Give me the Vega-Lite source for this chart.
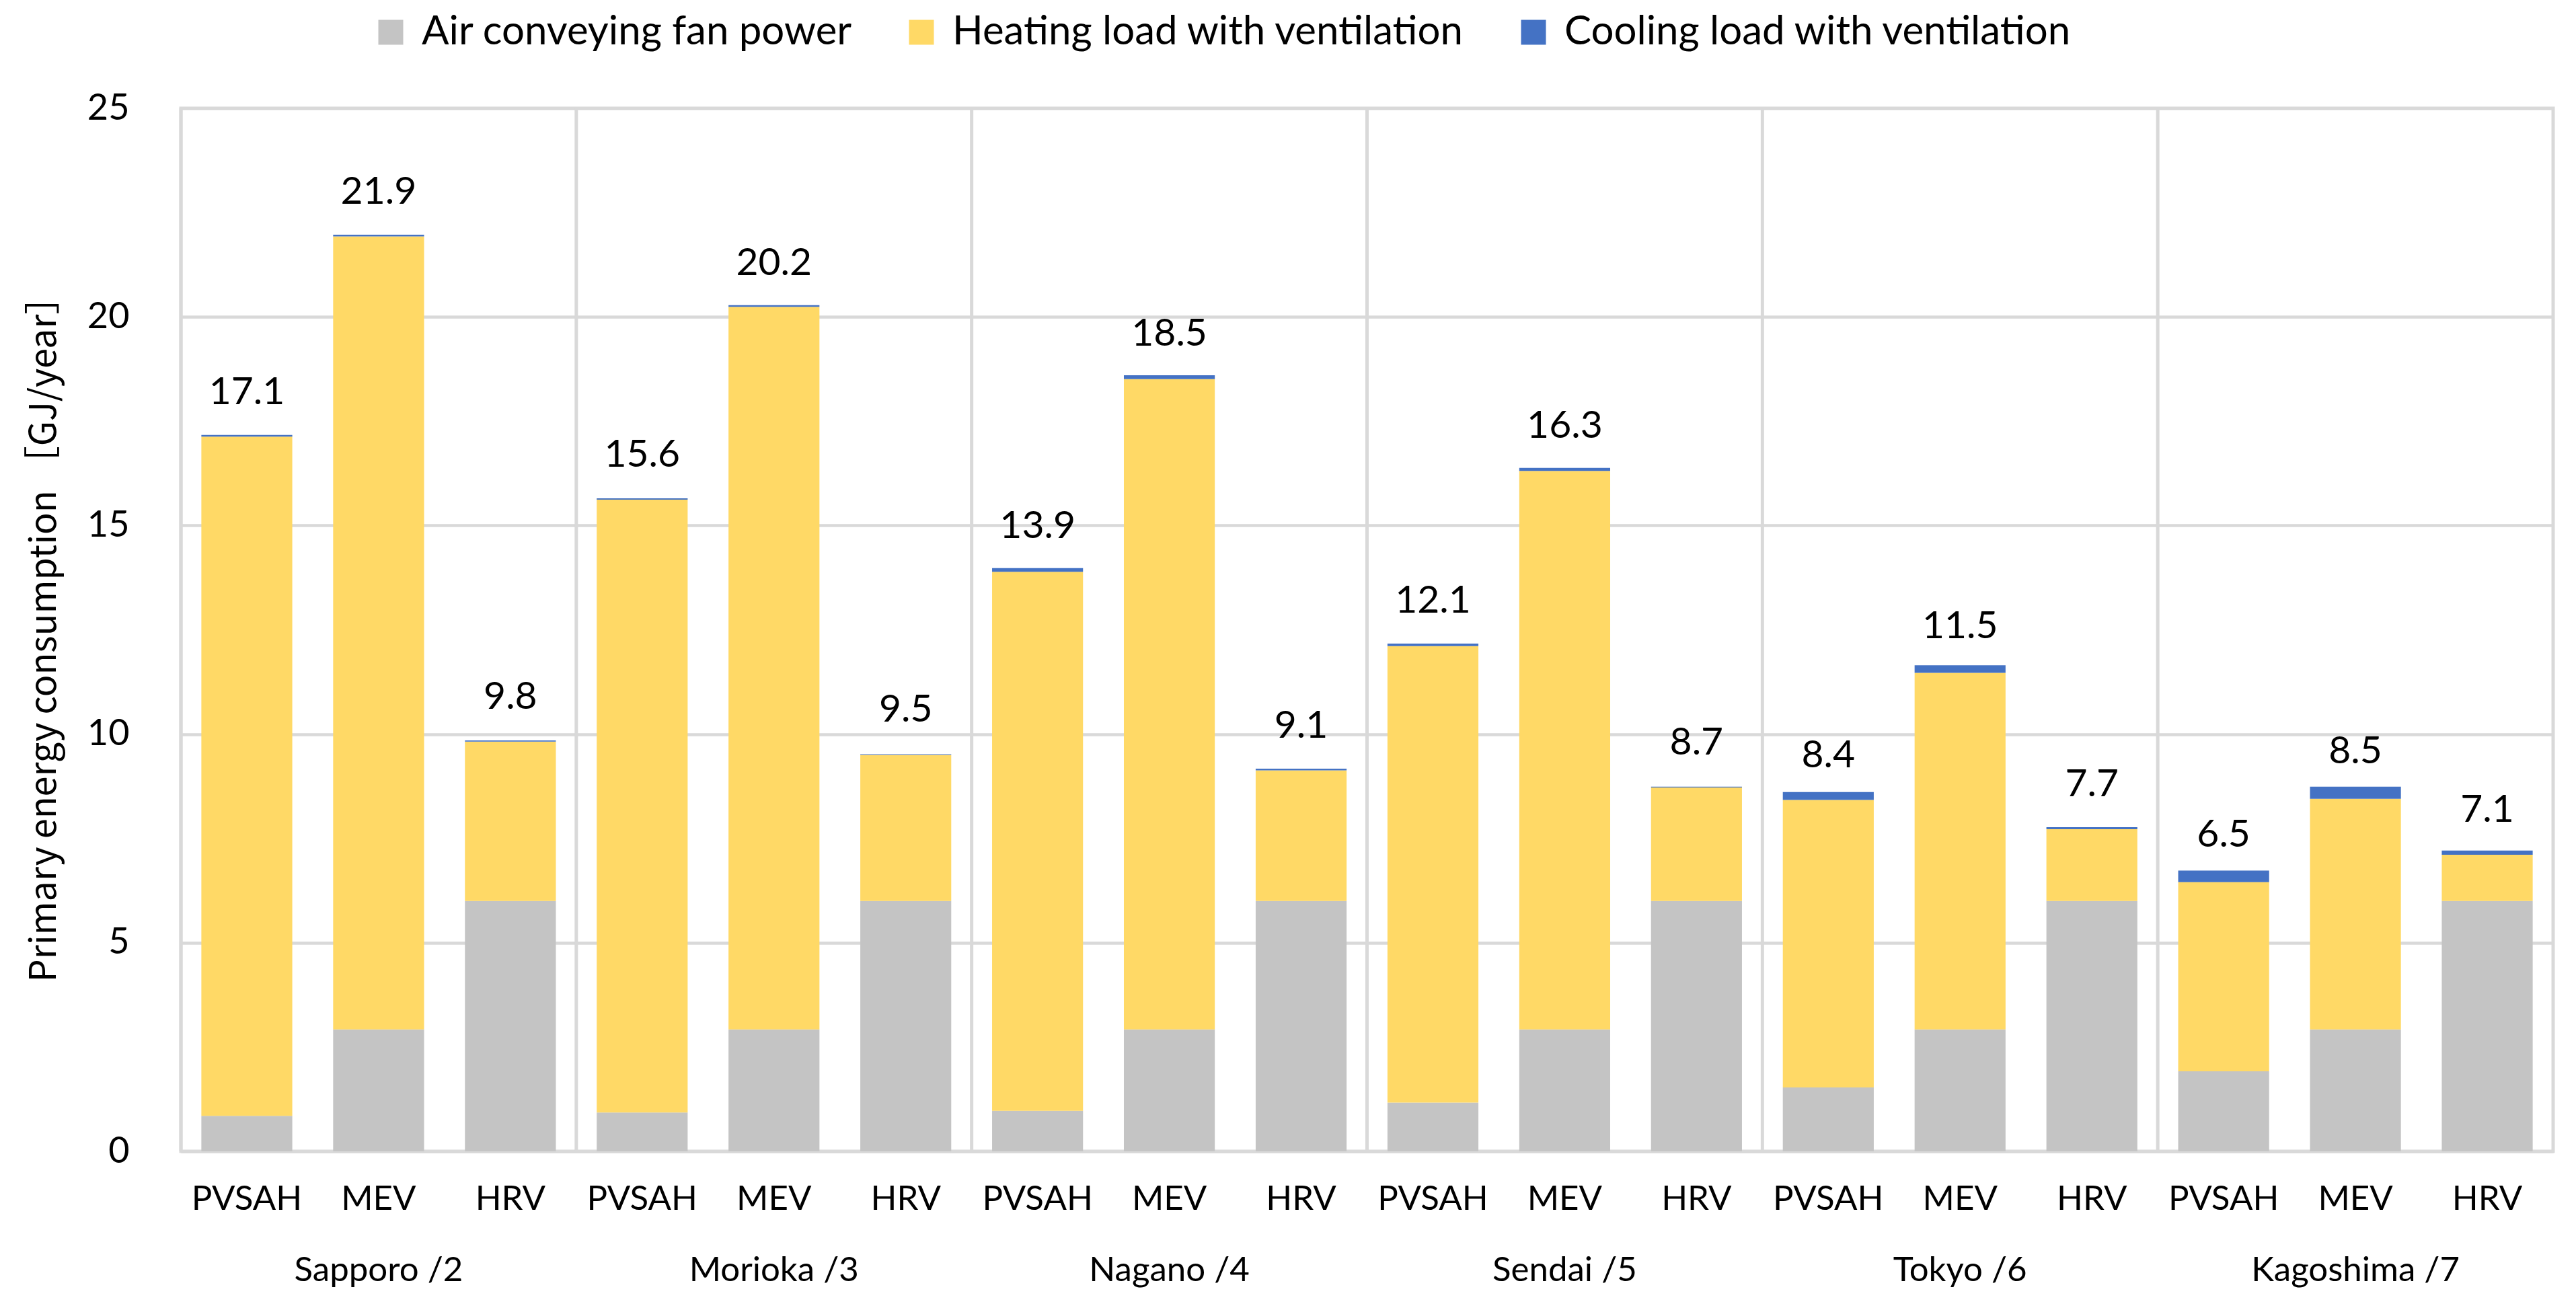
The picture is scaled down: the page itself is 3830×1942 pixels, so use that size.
{
  "$schema": "https://vega.github.io/schema/vega-lite/v6.json",
  "width": 3527,
  "height": 1551,
  "autosize": "none",
  "padding": {"left": 269, "top": 161, "right": 34, "bottom": 230},
  "background": "white",
  "config": {
    "view": {"stroke": "#D9D9D9", "strokeWidth": 5},
    "font": "Lato",
    "axis": {"labelFont": "Lato", "labelColor": "#000000", "titleColor": "#000000"}
  },
  "datasets": {
    "bars": [
      {"city": "Sapporo /2", "system": "PVSAH", "component": "Air conveying fan power", "value": 0.85},
      {"city": "Sapporo /2", "system": "PVSAH", "component": "Heating load with ventilation", "value": 16.28},
      {"city": "Sapporo /2", "system": "PVSAH", "component": "Cooling load with ventilation", "value": 0.04},
      {"city": "Sapporo /2", "system": "MEV", "component": "Air conveying fan power", "value": 2.92},
      {"city": "Sapporo /2", "system": "MEV", "component": "Heating load with ventilation", "value": 19.01},
      {"city": "Sapporo /2", "system": "MEV", "component": "Cooling load with ventilation", "value": 0.04},
      {"city": "Sapporo /2", "system": "HRV", "component": "Air conveying fan power", "value": 6.0},
      {"city": "Sapporo /2", "system": "HRV", "component": "Heating load with ventilation", "value": 3.82},
      {"city": "Sapporo /2", "system": "HRV", "component": "Cooling load with ventilation", "value": 0.03},
      {"city": "Morioka /3", "system": "PVSAH", "component": "Air conveying fan power", "value": 0.93},
      {"city": "Morioka /3", "system": "PVSAH", "component": "Heating load with ventilation", "value": 14.69},
      {"city": "Morioka /3", "system": "PVSAH", "component": "Cooling load with ventilation", "value": 0.03},
      {"city": "Morioka /3", "system": "MEV", "component": "Air conveying fan power", "value": 2.92},
      {"city": "Morioka /3", "system": "MEV", "component": "Heating load with ventilation", "value": 17.32},
      {"city": "Morioka /3", "system": "MEV", "component": "Cooling load with ventilation", "value": 0.04},
      {"city": "Morioka /3", "system": "HRV", "component": "Air conveying fan power", "value": 6.0},
      {"city": "Morioka /3", "system": "HRV", "component": "Heating load with ventilation", "value": 3.5},
      {"city": "Morioka /3", "system": "HRV", "component": "Cooling load with ventilation", "value": 0.02},
      {"city": "Nagano /4", "system": "PVSAH", "component": "Air conveying fan power", "value": 0.97},
      {"city": "Nagano /4", "system": "PVSAH", "component": "Heating load with ventilation", "value": 12.92},
      {"city": "Nagano /4", "system": "PVSAH", "component": "Cooling load with ventilation", "value": 0.09},
      {"city": "Nagano /4", "system": "MEV", "component": "Air conveying fan power", "value": 2.92},
      {"city": "Nagano /4", "system": "MEV", "component": "Heating load with ventilation", "value": 15.59},
      {"city": "Nagano /4", "system": "MEV", "component": "Cooling load with ventilation", "value": 0.09},
      {"city": "Nagano /4", "system": "HRV", "component": "Air conveying fan power", "value": 6.0},
      {"city": "Nagano /4", "system": "HRV", "component": "Heating load with ventilation", "value": 3.13},
      {"city": "Nagano /4", "system": "HRV", "component": "Cooling load with ventilation", "value": 0.04},
      {"city": "Sendai /5", "system": "PVSAH", "component": "Air conveying fan power", "value": 1.17},
      {"city": "Sendai /5", "system": "PVSAH", "component": "Heating load with ventilation", "value": 10.94},
      {"city": "Sendai /5", "system": "PVSAH", "component": "Cooling load with ventilation", "value": 0.06},
      {"city": "Sendai /5", "system": "MEV", "component": "Air conveying fan power", "value": 2.92},
      {"city": "Sendai /5", "system": "MEV", "component": "Heating load with ventilation", "value": 13.39},
      {"city": "Sendai /5", "system": "MEV", "component": "Cooling load with ventilation", "value": 0.07},
      {"city": "Sendai /5", "system": "HRV", "component": "Air conveying fan power", "value": 6.0},
      {"city": "Sendai /5", "system": "HRV", "component": "Heating load with ventilation", "value": 2.72},
      {"city": "Sendai /5", "system": "HRV", "component": "Cooling load with ventilation", "value": 0.02},
      {"city": "Tokyo /6", "system": "PVSAH", "component": "Air conveying fan power", "value": 1.53},
      {"city": "Tokyo /6", "system": "PVSAH", "component": "Heating load with ventilation", "value": 6.89},
      {"city": "Tokyo /6", "system": "PVSAH", "component": "Cooling load with ventilation", "value": 0.19},
      {"city": "Tokyo /6", "system": "MEV", "component": "Air conveying fan power", "value": 2.92},
      {"city": "Tokyo /6", "system": "MEV", "component": "Heating load with ventilation", "value": 8.55},
      {"city": "Tokyo /6", "system": "MEV", "component": "Cooling load with ventilation", "value": 0.18},
      {"city": "Tokyo /6", "system": "HRV", "component": "Air conveying fan power", "value": 6.0},
      {"city": "Tokyo /6", "system": "HRV", "component": "Heating load with ventilation", "value": 1.72},
      {"city": "Tokyo /6", "system": "HRV", "component": "Cooling load with ventilation", "value": 0.05},
      {"city": "Kagoshima /7", "system": "PVSAH", "component": "Air conveying fan power", "value": 1.92},
      {"city": "Kagoshima /7", "system": "PVSAH", "component": "Heating load with ventilation", "value": 4.53},
      {"city": "Kagoshima /7", "system": "PVSAH", "component": "Cooling load with ventilation", "value": 0.28},
      {"city": "Kagoshima /7", "system": "MEV", "component": "Air conveying fan power", "value": 2.92},
      {"city": "Kagoshima /7", "system": "MEV", "component": "Heating load with ventilation", "value": 5.53},
      {"city": "Kagoshima /7", "system": "MEV", "component": "Cooling load with ventilation", "value": 0.29},
      {"city": "Kagoshima /7", "system": "HRV", "component": "Air conveying fan power", "value": 6.0},
      {"city": "Kagoshima /7", "system": "HRV", "component": "Heating load with ventilation", "value": 1.11},
      {"city": "Kagoshima /7", "system": "HRV", "component": "Cooling load with ventilation", "value": 0.1}
    ],
    "totals": [
      {"city": "Sapporo /2", "system": "PVSAH", "label": 17.1},
      {"city": "Sapporo /2", "system": "MEV", "label": 21.9},
      {"city": "Sapporo /2", "system": "HRV", "label": 9.8},
      {"city": "Morioka /3", "system": "PVSAH", "label": 15.6},
      {"city": "Morioka /3", "system": "MEV", "label": 20.2},
      {"city": "Morioka /3", "system": "HRV", "label": 9.5},
      {"city": "Nagano /4", "system": "PVSAH", "label": 13.9},
      {"city": "Nagano /4", "system": "MEV", "label": 18.5},
      {"city": "Nagano /4", "system": "HRV", "label": 9.1},
      {"city": "Sendai /5", "system": "PVSAH", "label": 12.1},
      {"city": "Sendai /5", "system": "MEV", "label": 16.3},
      {"city": "Sendai /5", "system": "HRV", "label": 8.7},
      {"city": "Tokyo /6", "system": "PVSAH", "label": 8.4},
      {"city": "Tokyo /6", "system": "MEV", "label": 11.5},
      {"city": "Tokyo /6", "system": "HRV", "label": 7.7},
      {"city": "Kagoshima /7", "system": "PVSAH", "label": 6.5},
      {"city": "Kagoshima /7", "system": "MEV", "label": 8.5},
      {"city": "Kagoshima /7", "system": "HRV", "label": 7.1}
    ]
  },
  "layer": [
    {
      "data": {"name": "totals"},
      "transform": [{"filter": "datum.system === 'PVSAH'"}],
      "mark": {"type": "rule", "color": "#D9D9D9", "strokeWidth": 5},
      "encoding": {
        "x": {"field": "city", "type": "nominal", "bandPosition": 0, "sort": ["Sapporo /2", "Morioka /3", "Nagano /4", "Sendai /5", "Tokyo /6", "Kagoshima /7"], "title": null}
      }
    },
    {
      "data": {"name": "bars"},
      "transform": [
        {"calculate": "indexof(['Air conveying fan power','Heating load with ventilation','Cooling load with ventilation'], datum.component)", "as": "stackOrder"}
      ],
      "mark": {"type": "bar"},
      "encoding": {
        "x": {
          "field": "city", "type": "nominal",
          "sort": ["Sapporo /2", "Morioka /3", "Nagano /4", "Sendai /5", "Tokyo /6", "Kagoshima /7"],
          "scale": {"paddingInner": 0, "paddingOuter": 0},
          "title": null,
          "axis": {
            "labelAngle": 0, "labelAlign": "center", "ticks": false, "grid": false,
            "bandPosition": 0.5,
            "domain": true, "domainColor": "#D9D9D9", "domainWidth": 5,
            "labelFontSize": 51, "labelPadding": 192, "labelBaseline": "alphabetic",
            "labelColor": "#000000", "labelLimit": 1000
          }
        },
        "xOffset": {
          "field": "system", "type": "nominal",
          "sort": ["PVSAH", "MEV", "HRV"],
          "scale": {"paddingInner": 0.31, "paddingOuter": 0.155}
        },
        "y": {
          "field": "value", "type": "quantitative", "stack": "zero",
          "scale": {"domain": [0, 25], "nice": false},
          "title": "Primary energy consumption ［GJ/year］",
          "axis": {
            "values": [0, 5, 10, 15, 20, 25], "format": "d",
            "grid": true, "gridColor": "#D9D9D9", "gridWidth": 4.5,
            "domain": false, "ticks": false,
            "labelFontSize": 54, "labelPadding": 77, "labelColor": "#000000",
            "titleFont": "Noto Sans CJK JP", "titleFontSize": 54, "titleFontWeight": "normal",
            "titlePadding": 36, "titleColor": "#000000"
          }
        },
        "color": {
          "field": "component", "type": "nominal",
          "scale": {
            "domain": ["Air conveying fan power", "Heating load with ventilation", "Cooling load with ventilation"],
            "range": ["#C4C4C4", "#FFD966", "#4472C4"]
          },
          "legend": {
            "orient": "none", "direction": "horizontal",
            "legendX": 282, "legendY": -143,
            "title": null,
            "symbolType": "square", "symbolSize": 1369, "symbolStrokeWidth": 0,
            "labelFont": "Lato", "labelFontSize": 60, "labelColor": "#000000",
            "labelOffset": 16, "columnPadding": 72, "labelLimit": 2000
          }
        },
        "order": {"field": "stackOrder", "type": "quantitative"}
      }
    },
    {
      "data": {"name": "totals"},
      "mark": {"type": "text", "font": "Lato", "fontSize": 57, "baseline": "alphabetic", "align": "center", "dy": -50, "color": "#000000"},
      "encoding": {
        "x": {"field": "city", "type": "nominal", "sort": ["Sapporo /2", "Morioka /3", "Nagano /4", "Sendai /5", "Tokyo /6", "Kagoshima /7"], "title": null},
        "xOffset": {"field": "system", "type": "nominal", "sort": ["PVSAH", "MEV", "HRV"]},
        "y": {"field": "label", "type": "quantitative", "title": "Primary energy consumption ［GJ/year］"},
        "text": {"field": "label", "type": "quantitative", "format": ".1f"}
      }
    },
    {
      "data": {"name": "totals"},
      "mark": {"type": "text", "font": "Lato", "fontSize": 51, "baseline": "alphabetic", "align": "center", "dy": 87, "color": "#000000"},
      "encoding": {
        "x": {"field": "city", "type": "nominal", "sort": ["Sapporo /2", "Morioka /3", "Nagano /4", "Sendai /5", "Tokyo /6", "Kagoshima /7"], "title": null},
        "xOffset": {"field": "system", "type": "nominal", "sort": ["PVSAH", "MEV", "HRV"]},
        "y": {"datum": 0},
        "text": {"field": "system", "type": "nominal"}
      }
    }
  ]
}
